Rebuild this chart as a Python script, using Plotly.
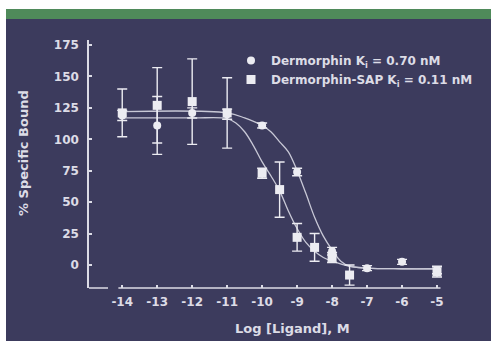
import plotly.graph_objects as go

# ---- data ----
# Dermorphin-SAP (squares, left curve)
x_sap = [-14, -13, -12, -11, -10, -9.5, -9, -8.5, -8, -7.5, -5]
y_sap = [121, 127, 130, 121, 73, 60, 22, 14, 6, -8, -5.5]
err_sap = [19, 30, 34, 28, 4, 22, 11, 11, 4, 8, 4]

# Dermorphin (circles, right curve)
x_der = [-14, -13, -12, -11, -10, -9, -8, -7, -6, -5]
y_der = [119, 111, 121, 120, 111, 74, 11, -2.5, 2.5, -4]
err_der = [4, 23, 4, 4, 2, 3, 3, 2, 2, 3]

# fitted curves
cx_sap = [-14, -12, -11, -10.75, -10.5, -10.25, -10, -9.75, -9.5, -9.25, -9, -8.75, -8.5, -8.25, -8, -7.5, -7, -6, -5]
cy_sap = [117, 117, 116.5, 113, 106, 95, 82, 71, 59, 43, 29, 18, 11, 6, 3, -1, -2.5, -3, -3]
cx_der = [-14, -11, -10.5, -10, -9.75, -9.5, -9.25, -9, -8.75, -8.5, -8.25, -8, -7.75, -7.5, -7, -6, -5]
cy_der = [122, 121, 117, 111, 106, 98, 90, 75, 57, 38, 23, 12, 3, -1, -2.5, -3, -3]

x_ticks = [-14, -13, -12, -11, -10, -9, -8, -7, -6, -5]
x_tick_text = ["-14", "-13", "-12", "-11", "-10", "-9", "-8", "-7", "-6", "-5"]
y_ticks = [0, 25, 50, 75, 100, 125, 150, 175]

label_sap = "Dermorphin-SAP K<sub>i</sub> = 0.11 nM"
label_der = "Dermorphin K<sub>i</sub> = 0.70 nM"
x_title = "Log [Ligand], M"
y_title = "% Specific Bound"

# ---- style ----
NAVY = "#3c3b5d"
GREEN = "#4f8a5a"
FG = "#dcdce6"
MARK = "#ececf2"
LINE = "#c8c8d6"
FONT = "DejaVu Sans"

W, H = 491, 341
L, R, T, B = 89, 40, 40, 53
PW, PH = W - L - R, H - T - B


def px_x(p):
    return (p - L) / PW


def px_y(p):
    return (H - B - p) / PH


fig = go.Figure()

fig.add_trace(go.Scatter(x=cx_sap, y=cy_sap, mode="lines", line=dict(color=LINE, width=1.3, shape="spline"),
                         showlegend=False, hoverinfo="skip"))
fig.add_trace(go.Scatter(x=cx_der, y=cy_der, mode="lines", line=dict(color=LINE, width=1.3, shape="spline"),
                         showlegend=False, hoverinfo="skip"))

fig.add_trace(go.Scatter(x=x_der, y=y_der, mode="markers", name=label_der,
                         marker=dict(symbol="circle", size=8, color=MARK),
                         error_y=dict(type="data", array=err_der, color=MARK, thickness=1.4, width=5)))
fig.add_trace(go.Scatter(x=x_sap, y=y_sap, mode="markers", name=label_sap,
                         marker=dict(symbol="square", size=9, color=MARK),
                         error_y=dict(type="data", array=err_sap, color=MARK, thickness=1.4, width=5)))

shapes = [
    dict(type="rect", xref="paper", yref="paper", x0=px_x(6), x1=px_x(W + 10), y0=px_y(H + 10), y1=px_y(19),
         fillcolor=NAVY, line=dict(width=0), layer="below"),
    dict(type="rect", xref="paper", yref="paper", x0=px_x(6), x1=px_x(W + 10), y0=px_y(19), y1=px_y(9),
         fillcolor=GREEN, line=dict(width=0), layer="below"),
    # broken x axis line
    dict(type="line", xref="paper", yref="paper", x0=0, x1=px_x(108), y0=0, y1=0,
         line=dict(color=FG, width=1.5), layer="above"),
    dict(type="line", xref="x", yref="paper", x0=-14.11, x1=-4.9, y0=0, y1=0,
         line=dict(color=FG, width=1.5), layer="above"),
]

fig.update_layout(
    width=W, height=H,
    margin=dict(l=L, r=R, t=T, b=B, autoexpand=False),
    paper_bgcolor="white",
    plot_bgcolor=NAVY,
    shapes=shapes,
    font=dict(family=FONT, color=FG, size=12, weight="bold"),
    showlegend=True,
    legend=dict(x=px_x(231), y=px_y(46), xanchor="left", yanchor="top", bgcolor="rgba(0,0,0,0)",
                font=dict(size=12, color=FG, family=FONT, weight="bold"), itemwidth=30,
                tracegroupgap=0, traceorder="normal"),
    annotations=[
        dict(text=x_title, xref="paper", yref="paper", x=px_x(292), y=px_y(328), showarrow=False,
             xanchor="center", yanchor="middle", font=dict(size=13, color=FG, family=FONT, weight="bold")),
        dict(text=y_title, xref="paper", yref="paper", x=px_x(23), y=px_y(153), showarrow=False, textangle=-90,
             xanchor="center", yanchor="middle", font=dict(size=13, color=FG, family=FONT, weight="bold")),
    ],
)

fig.update_xaxes(range=[-14.95, -4.6], tickvals=x_ticks, ticktext=x_tick_text, ticks="inside", ticklen=3,
                 tickcolor=FG, tickwidth=1.5, showline=False, showgrid=False, zeroline=False,
                 ticklabelstandoff=5, automargin=False)
fig.update_yaxes(range=[-18.3, 179], tickvals=y_ticks, ticks="inside", ticklen=3, tickcolor=FG, tickwidth=1.5,
                 showline=True, linecolor=FG, linewidth=1.5, showgrid=False, zeroline=False,
                 ticklabelstandoff=6, automargin=False)

fig.write_html("out.html", config={"displayModeBar": False},
               post_script="document.body.style.margin='0';document.body.style.overflow='hidden';")
